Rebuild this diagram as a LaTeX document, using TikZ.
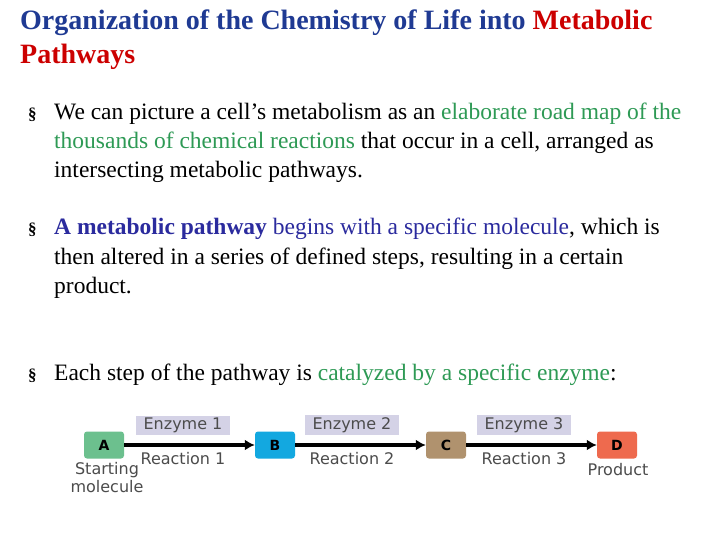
\documentclass[tikz,border=0pt]{standalone}
\usepackage{fontspec}
\usetikzlibrary{arrows.meta}
\setmainfont{Liberation Serif}
\newfontfamily\dsans{DejaVu Sans}
\definecolor{ttl}{HTML}{1F3A93}
\definecolor{tred}{HTML}{CC0000}
\definecolor{tgrn}{HTML}{2E9A55}
\definecolor{tblu}{HTML}{2B2B9E}
\definecolor{cA}{HTML}{6CC08E}
\definecolor{cB}{HTML}{13A8E0}
\definecolor{cC}{HTML}{B0926E}
\definecolor{cD}{HTML}{EE6A4E}
\definecolor{lav}{HTML}{D4D2E6}
\begin{document}
\begin{tikzpicture}[x=1pt,y=-1pt,
  ln/.style={anchor=base west,inner sep=0pt,font=\fontsize{23.5}{28}\selectfont},
  tt/.style={anchor=base west,inner sep=0pt,font=\fontsize{28}{32}\selectfont\bfseries,text=ttl},
  bul/.style={anchor=base west,inner sep=0pt,font=\fontsize{17}{19}\selectfont\bfseries},
  mol/.style={rounded corners=3pt,minimum width=40pt,minimum height=27pt,inner sep=0pt,font=\dsans\bfseries\fontsize{14}{16}\selectfont},
  enz/.style={fill=lav,inner sep=2pt,minimum width=94pt,minimum height=19pt,font=\dsans\fontsize{16}{18}\selectfont,text=black!70},
  rx/.style={inner sep=0pt,font=\dsans\fontsize{16}{18}\selectfont,text=black!70},
  arr/.style={line width=3.5pt,-{Latex[length=10pt,width=11pt]}}]
\useasboundingbox (0,0) rectangle (720,540);
\fill[white] (0,0) rectangle (720,540);
\node[tt] (t1) at (20,30) {Organization of the Chemistry of Life into \textcolor{tred}{Metabolic}};
\node[tt] (t2) at (20,64) {\textcolor{tred}{Pathways}};
\node[bul] (b1) at (28,120) {§};
\node[ln] (l1) at (54,120) {We can picture a cell’s metabolism as an \textcolor{tgrn}{elaborate road map of the}};
\node[ln] (l2) at (54,149) {\textcolor{tgrn}{thousands of chemical reactions} that occur in a cell, arranged as};
\node[ln] (l3) at (54,178) {intersecting metabolic pathways.};
\node[bul] (b2) at (28,235) {§};
\node[ln] (l4) at (54,235) {\textcolor{tblu}{\textbf{A metabolic pathway} begins with a specific molecule}, which is};
\node[ln] (l5) at (54,264) {then altered in a series of defined steps, resulting in a certain};
\node[ln] (l6) at (54,293) {product.};
\node[bul] (b3) at (28,380) {§};
\node[ln] (l7) at (54,380) {Each step of the pathway is \textcolor{tgrn}{catalyzed by a specific enzyme}:};
\node[mol,fill=cA] (A) at (104,445) {A};
\node[mol,fill=cB] (B) at (275,445) {B};
\node[mol,fill=cC] (C) at (446,445) {C};
\node[mol,fill=cD] (D) at (617,445) {D};
\draw[arr] (A) -- (B);
\draw[arr] (B) -- (C);
\draw[arr] (C) -- (D);
\node[enz] (e1) at (183,425) {Enzyme 1};
\node[enz] (e2) at (352,425) {Enzyme 2};
\node[enz] (e3) at (524,425) {Enzyme 3};
\node[rx] (r1) at (183,459) {Reaction 1};
\node[rx] (r2) at (352,459) {Reaction 2};
\node[rx] (r3) at (524,459) {Reaction 3};
\node[rx,align=center] (s) at (107,478) {Starting\\molecule};
\node[rx] (p) at (618,470) {Product};
\end{tikzpicture}
\end{document}
